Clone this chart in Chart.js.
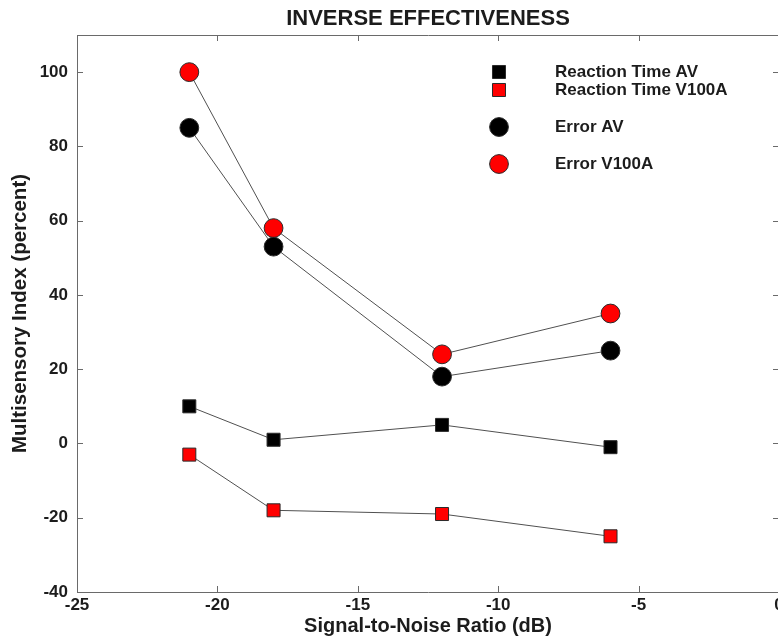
<!DOCTYPE html>
<html><head><meta charset="utf-8">
<script src="https://cdn.jsdelivr.net/npm/chart.js@4.4.0/dist/chart.umd.min.js"></script>
<style>
html,body{margin:0;padding:0;background:#fff;overflow:hidden;}
#wrap{width:778px;height:640px;overflow:hidden;position:relative;}
#inner{width:800px;height:640px;}
canvas{display:block;}
</style></head><body>
<div id="wrap"><div id="inner"><canvas id="c" width="800" height="640"></canvas></div></div>
<script>
// ---- data ----
const snr = [-21, -18, -12, -6];
const rtAV = [10, 1, 5, -1];
const rtV100A = [-3, -18, -19, -25];
const errAV = [85, 53, 18, 25];
const errV100A = [100, 58, 24, 35];
const seriesNames = ['Reaction Time AV', 'Reaction Time V100A', 'Error AV', 'Error V100A'];
const xTicks = [-25, -20, -15, -10, -5, 0];
const yTicks = [-40, -20, 0, 20, 40, 60, 80, 100];
const chartTitle = 'INVERSE EFFECTIVENESS';
const xTitle = 'Signal-to-Noise Ratio (dB)';
const yTitle = 'Multisensory Index (percent)';

const FONT = "'Liberation Sans', Arial, Helvetica, sans-serif";
const TEXT = '#1c1c1c';
const AXIS = '#6a6a6a';
const RED = '#ff0000';

function pts(vals) { return snr.map((x, i) => ({x: x, y: vals[i]})); }

const styles = [
  {fill: '#000000', style: 'rect', r: 9.2},
  {fill: RED, style: 'rect', r: 9.2},
  {fill: '#000000', style: 'circle', r: 9.4},
  {fill: RED, style: 'circle', r: 9.4}
];
const seriesVals = [rtAV, rtV100A, errAV, errV100A];

const datasets = seriesVals.map((v, i) => ({
  label: seriesNames[i],
  data: pts(v),
  borderColor: '#505050',
  borderWidth: 1,
  pointStyle: styles[i].style,
  pointRadius: styles[i].r,
  pointHoverRadius: styles[i].r,
  pointBackgroundColor: styles[i].fill,
  pointBorderColor: '#2a2a2a',
  pointBorderWidth: 1,
  tension: 0,
  fill: false
}));

const frame = {
  id: 'frame',
  beforeDatasetsDraw(chart) {
    const {ctx, chartArea: a, scales: {x, y}} = chart;
    ctx.save();
    ctx.strokeStyle = AXIS;
    ctx.lineWidth = 1;
    ctx.beginPath();
    ctx.rect(a.left + 0.5, a.top + 0.5, a.right - a.left, a.bottom - a.top);
    ctx.stroke();
    const tl = 6;
    ctx.beginPath();
    x.ticks.forEach(t => {
      const px = Math.round(x.getPixelForValue(t.value)) + 0.5;
      ctx.moveTo(px, a.bottom); ctx.lineTo(px, a.bottom - tl);
      ctx.moveTo(px, a.top); ctx.lineTo(px, a.top + tl);
    });
    y.ticks.forEach(t => {
      const py = Math.round(y.getPixelForValue(t.value)) + 0.5;
      ctx.moveTo(a.left, py); ctx.lineTo(a.left + tl, py);
      ctx.moveTo(a.right, py); ctx.lineTo(a.right - tl, py);
    });
    ctx.stroke();
    ctx.restore();
  },
  afterDraw(chart) {
    const {ctx, chartArea: a} = chart;
    ctx.save();
    // title
    ctx.fillStyle = TEXT;
    ctx.font = 'bold 22px ' + FONT;
    ctx.textAlign = 'center';
    ctx.textBaseline = 'middle';
    ctx.fillText(chartTitle, (a.left + a.right) / 2, 19);
    // legend
    const lx = 499, tx = 555;
    const ly = [72, 90, 127, 164];
    ctx.font = 'bold 17px ' + FONT;
    ctx.textAlign = 'left';
    seriesNames.forEach((name, i) => {
      const s = styles[i];
      ctx.fillStyle = s.fill;
      ctx.strokeStyle = '#2a2a2a';
      ctx.lineWidth = 1;
      ctx.beginPath();
      if (s.style === 'rect') {
        const h = s.r * Math.SQRT1_2;
        ctx.rect(lx - h, ly[i] - h, 2 * h, 2 * h);
      } else {
        ctx.arc(lx, ly[i], s.r, 0, Math.PI * 2);
      }
      ctx.fill();
      ctx.stroke();
      ctx.fillStyle = TEXT;
      ctx.fillText(name, tx, ly[i]);
    });
    ctx.restore();
  }
};

new Chart(document.getElementById('c'), {
  type: 'line',
  data: {datasets},
  options: {
    responsive: false,
    animation: false,
    devicePixelRatio: 1,
    layout: {padding: {left: 0, right: 21, top: 35, bottom: 0}},
    plugins: {legend: {display: false}, title: {display: false}, tooltip: {enabled: false}},
    scales: {
      x: {
        type: 'linear',
        min: -25, max: 0,
        afterBuildTicks: s => { s.ticks = xTicks.map(v => ({value: v})); },
        afterFit: s => { s.height = 48; },
        grid: {display: false, drawTicks: false},
        border: {display: false},
        ticks: {color: TEXT, font: {family: FONT, size: 17, weight: 'bold'}, padding: 3, maxRotation: 0},
        title: {display: true, text: xTitle, color: TEXT, font: {family: FONT, size: 20, weight: 'bold'}, padding: {top: 0, bottom: 2}}
      },
      y: {
        type: 'linear',
        min: -40, max: 110,
        afterBuildTicks: s => { s.ticks = yTicks.map(v => ({value: v})); },
        afterFit: s => { s.width = 77; },
        grid: {display: false, drawTicks: false},
        border: {display: false},
        ticks: {color: TEXT, font: {family: FONT, size: 17, weight: 'bold'}, padding: 9},
        title: {display: true, text: yTitle, color: TEXT, font: {family: FONT, size: 20.5, weight: 'bold'}, padding: {top: 8, bottom: 0}}
      }
    }
  },
  plugins: [frame]
});
</script>
</body></html>
